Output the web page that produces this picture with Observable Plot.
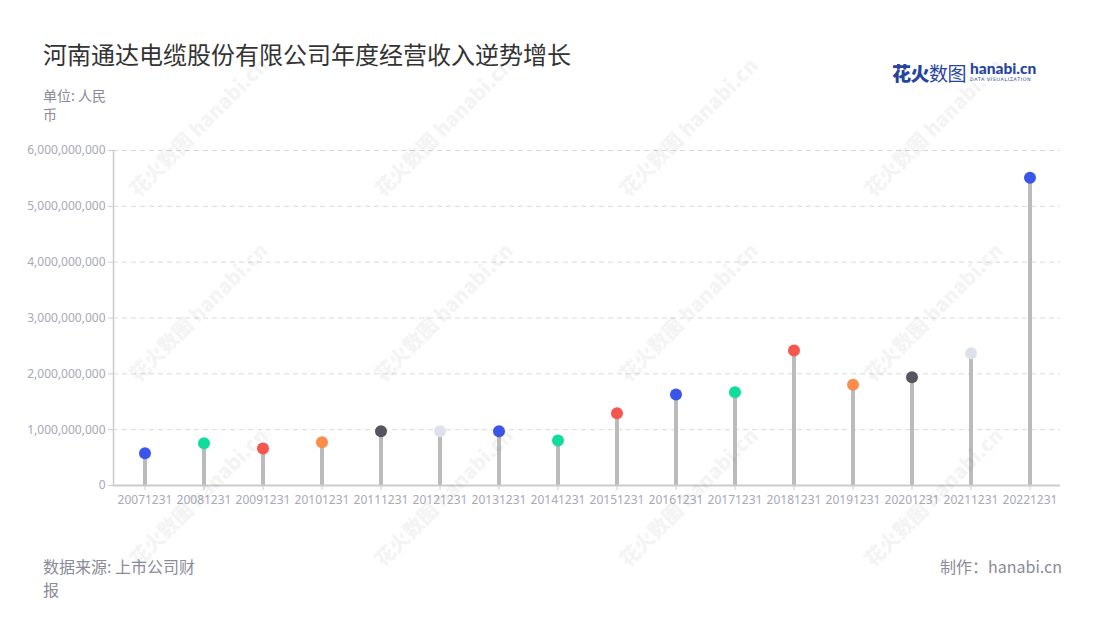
<!DOCTYPE html>
<html>
<head>
<meta charset="utf-8">
<script src="https://cdn.jsdelivr.net/npm/d3@7"></script>
<script src="https://cdn.jsdelivr.net/npm/@observablehq/plot@0.6"></script>
<style>
  html, body { margin: 0; padding: 0; background: #fff; }
  #wrap { position: relative; width: 1100px; height: 620px; overflow: hidden; font-family: "Noto Sans CJK SC", "Noto Sans", sans-serif; }
  #chart { position: absolute; left: 0; top: 0; }
  .abs { position: absolute; white-space: normal; }
  #title { left: 43px; top: 36px; font-size: 24px; color: #333; }
  #unit { left: 43px; top: 86px; width: 72px; font-size: 14px; line-height: 19px; color: #8a8a96; }
  #source { left: 43px; top: 555px; width: 160px; font-size: 16px; line-height: 23px; color: #8a8a99; }
  #credit { right: 38px; top: 555px; font-size: 16px; line-height: 23px; color: #8a8a99; }
  #logo { left: 892px; top: 58px; height: 28px; display: flex; align-items: center; }
  #logo .cn { font-size: 19px; color: #2743a0; letter-spacing: -0.5px; }
  #logo .cn b { font-weight: 900; }
  #logo .en { margin-left: 4px; display: flex; flex-direction: column; line-height: 1; }
  #logo .en b { font-family: "Lato", sans-serif; font-size: 15.5px; font-weight: 900; color: #2743a0; letter-spacing: 0px; }
  #logo .en i { font-style: normal; font-family: "DejaVu Sans", sans-serif; font-size: 4.8px; color: #2743a0; letter-spacing: 0.6px; margin-top: 1px; }
  .wm { position: absolute; transform: rotate(-45deg); font-size: 20px; font-weight: 900; color: #000; opacity: 0.04; white-space: nowrap; pointer-events: none; }
</style>
</head>
<body>
<div id="wrap">
  <div id="chart"></div>
  <div id="wms"></div>
  <div class="abs" id="title">河南通达电缆股份有限公司年度经营收入逆势增长</div>
  <div class="abs" id="unit">单位: 人民币</div>
  <div class="abs" id="logo"><span class="cn"><b>花火</b>数图</span><span class="en"><b>hanabi.cn</b><i>DATA VISUALIZATION</i></span></div>
  <div class="abs" id="source">数据来源: 上市公司财报</div>
  <div class="abs" id="credit">制作：hanabi.cn</div>
</div>
<script>
const years = ["20071231","20081231","20091231","20101231","20111231","20121231","20131231","20141231","20151231","20161231","20171231","20181231","20191231","20201231","20211231","20221231"];
const revenue = [578e6, 758e6, 663e6, 776e6, 973e6, 973e6, 973e6, 806e6, 1295e6, 1630e6, 1671e6, 2418e6, 1803e6, 1940e6, 2370e6, 5510e6];
const dotColors = ["#3a56e8","#10dc9c","#f5564e","#fb8c4c","#55555f","#dde1ea","#3a56e8","#10dc9c","#f5564e","#3a56e8","#10dc9c","#f5564e","#fb8c4c","#55555f","#dde1ea","#3a56e8"];
const yTicks = [0, 1e9, 2e9, 3e9, 4e9, 5e9, 6e9];

const data = years.map((y, i) => ({year: y, value: revenue[i]}));

const chart = Plot.plot({
  width: 1100,
  height: 620,
  marginTop: 150,
  marginBottom: 135,
  marginLeft: 113,
  marginRight: 40,
  style: {fontFamily: "'Noto Sans', 'Open Sans', sans-serif", fontSize: "12px", color: "#a8a8b6", background: "transparent"},
  x: {type: "band", domain: years, padding: 0},
  y: {domain: [0, 6e9]},
  color: {domain: years, range: dotColors},
  marks: [
    Plot.gridY(yTicks, {stroke: "#d9d9d9", strokeOpacity: 1, strokeDasharray: "5,4"}),
    Plot.axisY(yTicks, {tickFormat: d3.format(","), tickSize: 5, tickPadding: 3, stroke: "#cccccc", label: null, fill: "#a8a8b6"}),
    Plot.axisX({tickSize: 5, tickPadding: 5, stroke: "#cccccc", label: null, fill: "#a8a8b6"}),
    Plot.frame({anchor: "left", stroke: "#cccccc", strokeWidth: 1.5}),
    Plot.ruleX(data, {x: "year", y1: 0, y2: "value", stroke: "#bbbbbb", strokeWidth: 4}),
    Plot.ruleY([0], {stroke: "#cccccc", strokeWidth: 2}),
    Plot.dot(data, {x: "year", y: "value", fill: "year", r: 6, stroke: null})
  ]
});
document.getElementById("chart").appendChild(chart);

// faint repeating watermark
const wms = document.getElementById("wms");
for (let r = 0; r < 3; r++) {
  for (let c = 0; c < 4; c++) {
    const d = document.createElement("div");
    d.className = "wm";
    d.textContent = "花火数图 hanabi.cn";
    d.style.left = (105 + c * 245) + "px";
    d.style.top = (112 + r * 185) + "px";
    wms.appendChild(d);
  }
}
</script>
</body>
</html>
